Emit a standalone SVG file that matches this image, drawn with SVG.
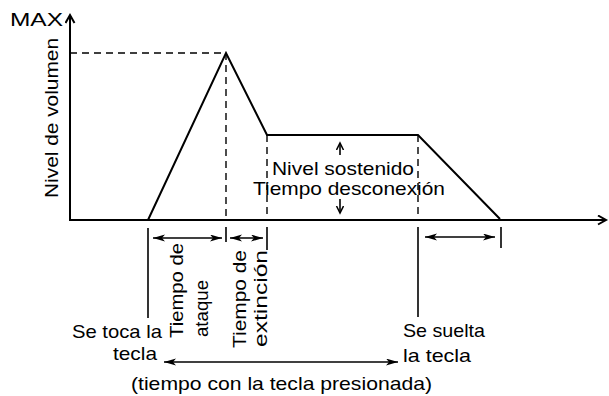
<svg xmlns="http://www.w3.org/2000/svg" width="609" height="396" viewBox="0 0 609 396">
<style>
text{font-family:"Liberation Sans",Arial,sans-serif;font-size:19px;fill:#000}
.ax{stroke:#000;stroke-width:2;fill:none}
.env{stroke:#000;stroke-width:2;fill:none;stroke-linejoin:miter}
.dash{stroke:#000;stroke-width:1.4;stroke-dasharray:7 5;fill:none}
.tk{stroke:#000;stroke-width:1.6;fill:none}
.dbl{stroke:#000;stroke-width:1.6;fill:none;marker-start:url(#ah);marker-end:url(#ah)}
</style>
<defs>
<marker id="open" markerUnits="userSpaceOnUse" markerWidth="12" markerHeight="12" refX="9" refY="5" orient="auto">
<path d="M1,0.5 L9,5 L1,9.5" stroke="#000" stroke-width="2" fill="none"/>
</marker>
<marker id="ah" markerUnits="userSpaceOnUse" markerWidth="14" markerHeight="8" refX="12" refY="3.5" orient="auto-start-reverse">
<path d="M0,0 L12,3.5 L0,7 L3,3.5 z" fill="#000"/>
</marker>
<marker id="sm" markerUnits="userSpaceOnUse" markerWidth="10" markerHeight="10" refX="7" refY="4" orient="auto">
<path d="M0,0.5 L7,4 L0,7.5" stroke="#000" stroke-width="1.5" fill="none"/>
</marker>
</defs>

<g id="axes">
<line class="ax" x1="70" y1="221" x2="70" y2="15" marker-end="url(#open)"/>
<line class="ax" x1="69" y1="220" x2="606" y2="220" marker-end="url(#open)"/>
<text x="10" y="26" font-size="16" textLength="53" lengthAdjust="spacingAndGlyphs">MAX</text>
<text transform="translate(58,198) rotate(-90)" font-size="20" textLength="160" lengthAdjust="spacingAndGlyphs">Nivel de volumen</text>
</g>

<g id="envelope">
<polyline class="env" points="148,220 226,53 267,135 418,135 500,219"/>
</g>

<g id="guides">
<line class="dash" x1="70" y1="53" x2="226" y2="53"/>
<line class="dash" x1="226" y1="53" x2="226" y2="220"/>
<line class="dash" x1="267" y1="135" x2="267" y2="220"/>
<line class="dash" x1="418" y1="135" x2="418" y2="220"/>
</g>

<g id="sustain">
<line class="tk" x1="340" y1="155" x2="340" y2="143" marker-end="url(#sm)"/>
<line class="tk" x1="340" y1="199" x2="340" y2="213" marker-end="url(#sm)"/>
<text x="272" y="175" textLength="142" lengthAdjust="spacingAndGlyphs">Nivel sostenido</text>
<text x="253" y="195" textLength="192" lengthAdjust="spacingAndGlyphs">Tiempo desconexión</text>
</g>

<g id="connectors">
<line class="tk" x1="148" y1="228" x2="148" y2="318"/>
<line class="tk" x1="226" y1="227" x2="226" y2="242"/>
<line class="tk" x1="267" y1="227" x2="267" y2="250"/>
<line class="tk" x1="418" y1="227" x2="418" y2="317"/>
<line class="tk" x1="501" y1="227" x2="501" y2="248"/>
<line class="dbl" x1="153" y1="238" x2="222" y2="238"/>
<line class="dbl" x1="230" y1="238" x2="263" y2="238"/>
<line class="dbl" x1="425" y1="237" x2="495" y2="237"/>
<line class="dbl" x1="164" y1="362" x2="398" y2="362"/>
</g>

<g id="labels">
<text transform="translate(183,338) rotate(-90)" textLength="95" lengthAdjust="spacingAndGlyphs">Tiempo de</text>
<text transform="translate(208,337) rotate(-90)" textLength="57" lengthAdjust="spacingAndGlyphs">ataque</text>
<text transform="translate(246,348) rotate(-90)" textLength="98" lengthAdjust="spacingAndGlyphs">Tiempo de</text>
<text transform="translate(267,347) rotate(-90)" textLength="97" lengthAdjust="spacingAndGlyphs">extinción</text>
<text x="72" y="338" textLength="90" lengthAdjust="spacingAndGlyphs">Se toca la</text>
<text x="113" y="360" textLength="44" lengthAdjust="spacingAndGlyphs">tecla</text>
<text x="403" y="337" textLength="82" lengthAdjust="spacingAndGlyphs">Se suelta</text>
<text x="403" y="362" textLength="68" lengthAdjust="spacingAndGlyphs">la tecla</text>
<text x="131" y="390" textLength="301" lengthAdjust="spacingAndGlyphs">(tiempo con la tecla presionada)</text>
</g>
</svg>
